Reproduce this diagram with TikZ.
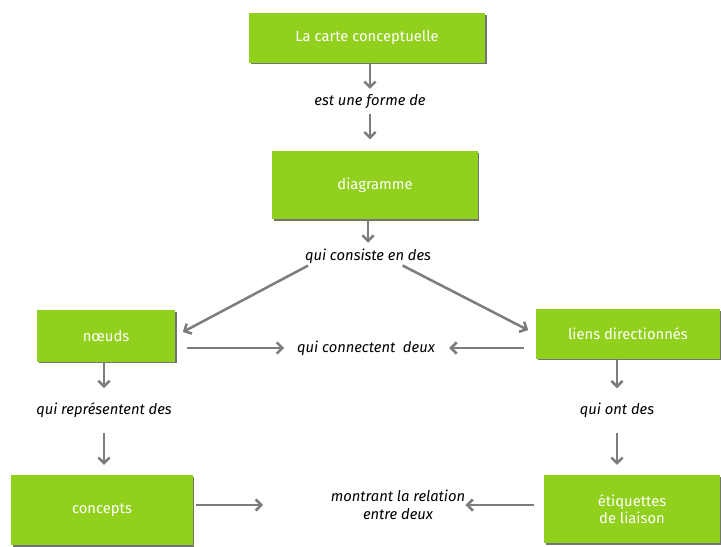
\documentclass[tikz,border=0pt]{standalone}
\usepackage{fontspec}
\setmainfont{Fira Sans}
\usetikzlibrary{arrows.meta,shadows}
\definecolor{mapgreen}{RGB}{146,208,30}
\definecolor{mapgray}{RGB}{125,125,125}
\begin{document}
\begin{tikzpicture}[
x=0.025cm, y=-0.025cm,
>={Straight Barb[length=4pt,width=8pt]},
font=\fontsize{10.5}{12.5}\selectfont,
concept/.style={fill=mapgreen, text=white, align=center, drop shadow={shadow xshift=1.2pt, shadow yshift=-1.2pt, fill=black!55, opacity=1}},
link/.style={font=\fontsize{10.5}{12.5}\selectfont\itshape, inner sep=0pt, align=center},
arrow/.style={draw=mapgray, line width=1.8pt, ->, shorten >=4pt}
]

\useasboundingbox (0,0) rectangle (721,546);

\node[concept, minimum width=5.9cm, minimum height=1.225cm] (carte) at (367,38) {La carte conceptuelle};
\node[link] (forme) at (370,102) {est une forme de};
\node[concept, minimum width=5.125cm, minimum height=1.7cm] (diagramme) at (375,185) {diagramme};
\node[link] (consiste) at (368,256) {qui consiste en des};
\node[concept, minimum width=3.45cm, minimum height=1.275cm] (noeuds) at (106,336) {nœuds};
\node[concept, minimum width=4.6cm, minimum height=1.225cm] (liens) at (628,334) {liens directionnés};
\node[link] (connectent) at (366,348) {qui connectent\ \ deux};
\node[link] (representent) at (104,410) {qui représentent des};
\node[link] (ontdes) at (617,410) {qui ont des};
\node[concept, minimum width=4.525cm, minimum height=1.75cm] (concepts) at (102,510) {concepts};
\node[concept, minimum width=4.4cm, minimum height=1.7cm] (etiquettes) at (632,509) {étiquettes\\de liaison};
\node[link] (relation) at (398,505) {montrant la relation\\entre deux};

\path[arrow] (forme.north |- carte.south) -- (forme);
\path[arrow, shorten <=3pt, shorten >=8pt] (forme) -- (forme |- diagramme.north);
\path[arrow] (consiste.north |- diagramme.south) -- (consiste);
\path[arrow, shorten <=3pt, shorten >=6pt] ([xshift=-40pt]consiste.south) -- (noeuds.east);
\path[arrow, shorten <=3pt, shorten >=6pt] ([xshift=22pt]consiste.south) -- (liens.west);
\path[arrow, shorten <=8pt, shorten >=9pt] (noeuds.east |- connectent) -- (connectent);
\path[arrow, shorten <=8pt, shorten >=10pt] (liens.west |- connectent) -- (connectent);
\path[arrow, shorten >=10pt] (representent.north |- noeuds.south) -- (representent);
\path[arrow, shorten <=11pt, shorten >=7pt] (representent) -- (representent |- concepts.north);
\path[arrow, shorten >=10pt] (ontdes.north |- liens.south) -- (ontdes);
\path[arrow, shorten <=11pt, shorten >=7pt] (ontdes) -- (ontdes |- etiquettes.north);
\path[arrow, shorten <=2pt, shorten >=48pt] (concepts.east |- relation) -- (relation);
\path[arrow, shorten <=7pt, shorten >=0pt] (etiquettes.west |- relation) -- (relation);

\end{tikzpicture}
\end{document}
